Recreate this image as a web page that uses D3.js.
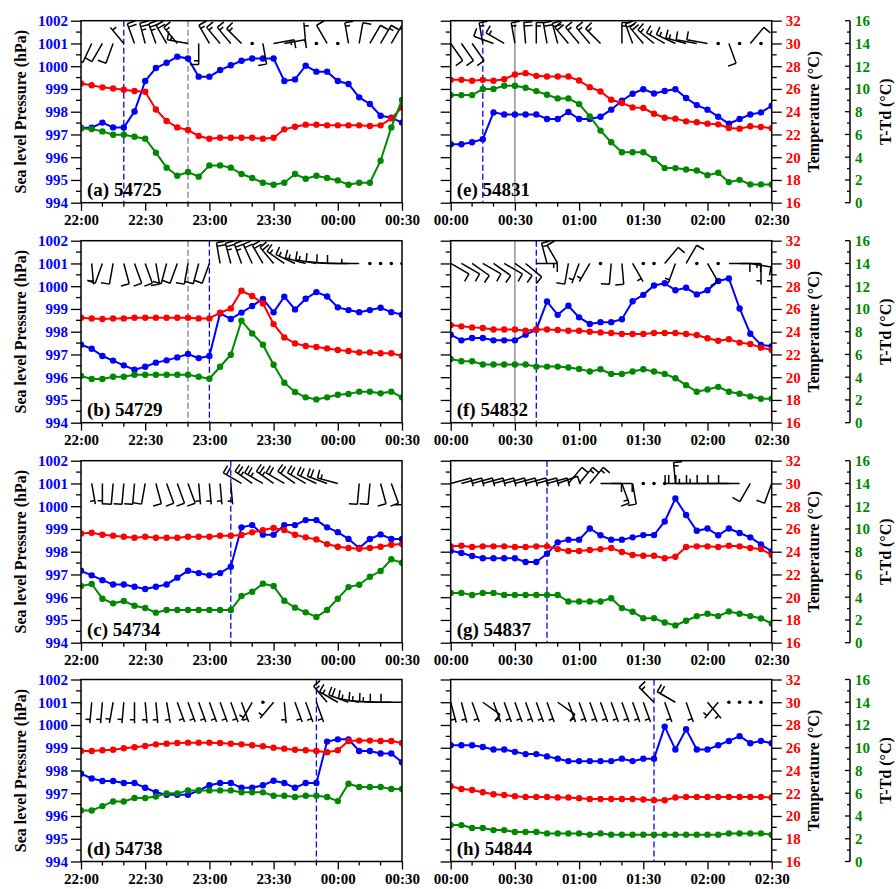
<!DOCTYPE html>
<html>
<head>
<meta charset="utf-8">
<script src="https://cdn.jsdelivr.net/npm/d3@7"></script>
<style>
  body { margin: 0; background: #fff; }
  svg { display: block; }
  text { font-family: "Liberation Serif", "Times New Roman", serif; font-weight: bold; }
</style>
</head>
<body>
<svg id="chart" width="896" height="889"></svg>
<script>
// ---- Station panels: (a)-(d) evening 22:00-00:30, (e)-(h) night 00:00-02:30, 5-min samples ----
const panelLetters = ["a", "b", "c", "d", "e", "f", "g", "h"];
const stations = ["54725", "54729", "54734", "54738", "54831", "54832", "54837", "54844"];
const timeTicksLeft = ["22:00", "22:30", "23:00", "23:30", "00:00", "00:30"];
const timeTicksRight = ["00:00", "00:30", "01:00", "01:30", "02:00", "02:30"];
const pressureTicks = [994, 995, 996, 997, 998, 999, 1000, 1001, 1002];
const tempTicks = [16, 18, 20, 22, 24, 26, 28, 30, 32];
const ttdTicks = [0, 2, 4, 6, 8, 10, 12, 14, 16];

// Sea level pressure (hPa)
const pressure = [
  [997.30,997.30,997.52,997.31,997.31,998.01,999.35,999.92,1000.15,1000.42,1000.34,999.54,999.54,999.83,1000.04,1000.24,1000.34,1000.34,1000.34,999.35,999.42,1000.02,999.76,999.76,999.35,999.22,998.63,998.34,997.82,997.74,997.52],
  [997.43,997.25,996.93,996.73,996.52,996.33,996.46,996.64,996.74,996.87,997.02,996.84,996.93,998.81,998.56,998.84,999.13,999.44,998.85,999.54,998.98,999.45,999.74,999.55,999.07,998.95,998.86,998.95,999.05,998.86,998.75],
  [997.16,996.96,996.75,996.56,996.56,996.46,996.36,996.46,996.56,996.86,997.16,997.06,996.96,997.06,997.34,999.07,999.17,998.75,998.75,999.17,999.17,999.39,999.39,999.07,998.86,998.56,998.16,998.56,998.76,998.56,998.56],
  [997.86,997.65,997.54,997.54,997.45,997.45,997.24,997.05,996.93,996.93,996.93,997.12,997.35,997.45,997.45,997.24,997.24,997.35,997.55,997.45,997.24,997.45,997.45,999.27,999.37,999.37,998.86,998.86,998.75,998.75,998.36],
  [996.57,996.57,996.66,996.79,997.97,997.88,997.88,997.88,997.88,997.68,997.68,997.99,997.68,997.68,997.78,998.09,998.48,998.79,998.99,998.80,998.91,998.99,998.60,998.29,998.09,997.78,997.47,997.68,997.88,997.97,998.26],
  [997.87,997.62,997.72,997.72,997.62,997.62,997.62,997.87,998.09,999.33,998.74,999.14,998.63,998.34,998.42,998.42,998.55,999.34,999.62,1000.03,1000.13,999.82,999.93,999.64,999.82,1000.23,1000.34,999.02,997.91,997.42,997.36],
  [998.04,997.94,997.81,997.71,997.71,997.71,997.71,997.55,997.55,997.91,998.41,998.53,998.53,999.02,998.72,998.53,998.53,998.63,998.73,998.73,999.33,1000.34,999.61,998.92,999.02,998.72,999.02,998.82,998.63,998.32,998.01],
  [999.11,999.11,999.11,999.03,998.92,998.92,998.82,998.72,998.72,998.62,998.52,998.41,998.41,998.41,998.41,998.41,998.52,998.41,998.52,998.52,999.93,998.92,999.81,998.92,998.92,999.11,999.30,999.51,999.20,999.30,999.20]
];

// Temperature (°C)
const temperature = [
  [26.49,26.32,26.14,26.05,25.93,25.82,25.76,24.20,23.18,22.62,22.39,21.86,21.63,21.71,21.71,21.71,21.71,21.63,21.71,22.45,22.68,22.86,22.86,22.80,22.80,22.80,22.80,22.74,22.80,23.41,24.38],
  [25.23,25.17,25.12,25.17,25.17,25.23,25.23,25.23,25.23,25.23,25.23,25.17,25.17,25.67,26.05,27.60,27.14,26.49,24.67,23.50,22.97,22.74,22.65,22.53,22.39,22.30,22.18,22.18,22.10,22.10,21.86],
  [25.61,25.67,25.49,25.41,25.32,25.23,25.32,25.23,25.23,25.23,25.32,25.32,25.32,25.41,25.41,25.47,25.70,25.90,26.08,25.90,25.49,25.26,25.08,24.67,24.44,24.32,24.26,24.32,24.44,24.61,24.67],
  [25.72,25.72,25.78,25.83,25.95,26.04,26.16,26.30,26.36,26.42,26.45,26.45,26.45,26.42,26.36,26.30,26.22,26.13,26.01,25.92,25.83,25.78,25.72,25.60,25.78,26.60,26.63,26.63,26.60,26.60,26.42],
  [26.80,26.80,26.72,26.80,26.72,26.86,27.27,27.39,27.15,27.09,27.09,27.09,26.74,26.16,25.78,25.05,24.76,24.38,24.32,23.82,23.47,23.39,23.15,23.07,22.95,22.89,22.57,22.51,22.72,22.66,22.54],
  [24.58,24.47,24.38,24.32,24.20,24.20,24.20,24.09,24.20,24.20,24.15,24.09,24.09,24.00,23.94,23.88,23.80,23.80,23.80,23.88,23.88,23.88,23.80,23.71,23.42,23.21,23.33,23.04,22.92,22.60,22.40],
  [24.47,24.53,24.41,24.47,24.47,24.47,24.41,24.41,24.47,24.47,24.23,24.06,24.06,24.15,24.23,24.32,23.97,23.71,23.65,23.65,23.42,23.56,24.41,24.47,24.47,24.41,24.53,24.47,24.32,24.23,23.71],
  [22.61,22.38,22.29,22.09,21.91,21.85,21.74,21.68,21.68,21.68,21.62,21.62,21.57,21.50,21.50,21.50,21.50,21.50,21.45,21.39,21.39,21.62,21.68,21.68,21.68,21.68,21.68,21.68,21.68,21.68,21.62]
];

// Dew-point depression T-Td (°C)
const depression = [
  [6.53,6.48,6.27,5.98,5.98,5.80,5.63,4.40,3.08,2.37,2.70,2.29,3.28,3.28,3.08,2.52,2.17,1.76,1.58,1.76,2.52,2.11,2.37,2.17,1.96,1.58,1.76,1.76,3.69,6.62,9.03],
  [4.10,3.84,3.84,4.04,4.04,4.22,4.22,4.22,4.22,4.22,4.22,4.04,3.87,4.92,5.98,8.97,7.85,6.86,5.10,3.52,2.70,2.23,2.05,2.23,2.46,2.52,2.73,2.73,2.58,2.73,2.23],
  [4.98,5.16,3.87,3.46,3.66,3.25,3.05,2.64,2.87,2.87,2.87,2.87,2.87,2.87,2.87,4.10,4.48,5.19,4.98,3.69,3.08,2.67,2.26,2.87,3.87,4.89,5.10,5.80,6.30,7.33,7.03],
  [4.49,4.49,4.87,5.28,5.28,5.58,5.58,5.72,5.99,5.99,6.25,6.25,6.25,6.25,6.25,6.08,6.08,6.08,5.78,5.78,5.67,5.78,5.78,5.67,5.31,6.84,6.55,6.55,6.55,6.37,6.37],
  [9.46,9.46,9.46,9.99,9.99,10.28,10.28,10.10,9.81,9.49,9.17,9.17,8.67,7.59,6.34,5.31,4.44,4.44,4.44,3.85,3.04,3.04,2.92,2.83,2.42,2.63,1.81,2.01,1.61,1.61,1.61],
  [5.61,5.40,5.40,5.11,5.11,5.11,5.11,5.11,4.93,4.93,4.93,4.85,4.73,4.50,4.70,4.29,4.29,4.50,4.70,4.50,4.29,3.91,3.30,2.72,2.92,3.15,2.72,2.54,2.31,2.10,2.10],
  [4.38,4.38,4.20,4.38,4.38,4.20,4.20,4.20,4.20,4.20,4.20,3.62,3.62,3.62,3.62,3.91,3.04,2.72,2.16,2.16,1.78,1.52,1.93,2.34,2.54,2.34,2.74,2.54,2.34,2.13,1.69],
  [3.20,3.20,2.94,2.94,2.76,2.76,2.59,2.59,2.59,2.47,2.47,2.47,2.47,2.36,2.47,2.36,2.36,2.36,2.36,2.36,2.36,2.36,2.36,2.36,2.36,2.36,2.47,2.47,2.47,2.47,2.36]
];

// Wind direction (deg, blowing from) and speed (m/s); speed 0 = calm, null = missing
const windDir = [
  [200,205,210,200,320,340,345,340,330,320,280,180,330,320,320,315,0,170,80,80,null,355,0,330,0,350,10,30,30,30,20],
  [195,175,200,190,165,160,160,170,195,200,190,195,200,350,345,340,335,330,320,305,295,285,280,275,272,270,270,0,0,0,0],
  [200,170,180,185,185,185,190,165,160,160,160,175,175,175,175,300,305,300,305,300,305,300,295,290,285,null,185,185,165,160,175],
  [185,185,185,190,185,180,175,175,170,160,160,160,160,160,160,160,210,0,220,175,160,160,160,320,300,290,280,275,272,270,270],
  [145,145,145,350,290,300,350,355,0,350,345,320,320,320,315,null,0,340,320,310,300,295,285,280,280,0,160,0,40,0,10],
  [120,120,125,120,125,120,125,130,90,345,330,190,200,210,0,185,175,150,0,0,40,200,30,0,150,0,90,90,100,180,180],
  [75,75,75,75,75,75,75,75,75,75,70,40,40,40,90,90,160,170,0,0,0,355,270,270,270,270,270,270,210,null,200],
  [165,165,160,125,160,160,160,160,160,160,125,160,160,160,160,160,160,160,160,315,160,300,160,null,140,220,0,0,0,0,null]
];
const windSpd = [
  [3,3,3,4,2,8,10,10,8,6,6,6,6,6,6,6,0,4,6,4,null,2,0,4,0,6,4,4,6,6,4],
  [3,2,3,3,4,4,4,3,3,3,3,3,3,8,10,10,8,8,8,6,6,6,6,4,4,4,2,0,0,0,0],
  [3,2,2,3,3,3,3,3,3,3,3,2,2,2,2,8,10,10,10,8,8,8,8,8,6,null,4,3,3,4,4],
  [2,2,2,2,2,2,2,2,2,2,2,2,2,2,2,2,2,0,2,2,2,2,2,6,6,8,6,6,6,4,4],
  [4,4,4,6,4,6,6,8,6,8,8,8,6,6,6,null,6,8,8,6,6,6,6,4,4,0,4,0,4,0,4],
  [4,4,4,4,4,4,4,4,6,6,4,4,2,2,0,4,4,2,0,0,4,2,4,0,4,0,4,6,4,2,2],
  [4,4,4,4,4,4,4,4,4,4,4,4,6,6,4,4,6,4,0,0,0,6,8,6,6,4,4,4,4,null,4],
  [2,2,2,4,2,2,2,2,2,2,4,2,2,2,2,2,2,2,2,6,2,8,2,null,2,2,0,0,0,0,null]
];

// Reference times (minutes from panel start): outflow-boundary passage and earlier marker
const gustTime = [20, 60, 70, 110, 15, 40, 45, 95];
const refTime = [50, 50, null, null, 30, 30, null, null];
const refDashed = [true, true, false, false, false, false, false, false];

// ---- layout ----
const W = 321, H = 182;
const colX = [81, 450.7];
const rowY = [20.7, 240.7, 460.7, 679.5];
const blue = "#0000ff", red = "#ff0000", green = "#008800";

const svg = d3.select("#chart");
const defs = svg.append("defs");

const x = d3.scaleLinear().domain([0, 150]).range([0, W]);
const yP = d3.scaleLinear().domain([994, 1002]).range([H, 0]);
const yT = d3.scaleLinear().domain([16, 32]).range([H, 0]);
const yD = d3.scaleLinear().domain([0, 16]).range([H, 0]);

function addMinorTicks(g, scale, values, side, len) {
  const sel = g.selectAll(null).data(values).enter().append("line")
    .attr("stroke", "#000").attr("stroke-width", 1.3);
  if (side === "left") sel.attr("x1", 0).attr("x2", -len).attr("y1", d => scale(d)).attr("y2", d => scale(d));
  if (side === "right") sel.attr("x1", 0).attr("x2", len).attr("y1", d => scale(d)).attr("y2", d => scale(d));
  if (side === "bottom") sel.attr("y1", 0).attr("y2", len).attr("x1", d => scale(d)).attr("x2", d => scale(d));
}

function styleAxis(g, color) {
  g.select(".domain").remove();
  g.selectAll(".tick line").attr("stroke", "#000").attr("stroke-width", 1.3);
  g.selectAll(".tick text").attr("fill", color).style("font-size", "15px");
}

// wind barb: staff toward the direction the wind blows from, feathers perpendicular at the far end
function drawBarb(g, x0, y0, dir, spd) {
  if (spd == null || dir == null) return;
  if (spd < 1) {
    g.append("circle").attr("cx", x0).attr("cy", y0).attr("r", 1.8).attr("fill", "#000");
    return;
  }
  const r = dir * Math.PI / 180;
  const ux = Math.sin(r), uy = -Math.cos(r);
  const fx = -uy, fy = ux;
  const L = 21, B = 8.5, gap = 3.6;
  const tx = x0 + ux * L, ty = y0 + uy * L;
  let p = `M${x0},${y0}L${tx},${ty}`;
  const units = Math.round(spd / 2);
  const full = Math.floor(units / 2), half = units % 2;
  let pos = 0;
  for (let k = 0; k < full; k++) {
    const px = tx - ux * pos, py = ty - uy * pos;
    p += `M${px},${py}l${fx * B},${fy * B}`;
    pos += gap;
  }
  if (half) {
    if (full === 0) pos = gap;
    const px = tx - ux * pos, py = ty - uy * pos;
    p += `M${px},${py}l${fx * B * 0.55},${fy * B * 0.55}`;
  }
  g.append("path").attr("d", p).attr("fill", "none").attr("stroke", "#000").attr("stroke-width", 1.5);
}

panelLetters.forEach((letter, k) => {
  const col = k < 4 ? 0 : 1, row = k % 4;
  const g = svg.append("g").attr("transform", `translate(${colX[col]},${rowY[row]})`);
  const tickLabels = col === 0 ? timeTicksLeft : timeTicksRight;

  defs.append("clipPath").attr("id", "clip" + k)
    .append("rect").attr("x", 0).attr("y", 0).attr("width", W).attr("height", H);

  // pressure axis (labels only on the left column)
  const axP = g.append("g").call(d3.axisLeft(yP).tickValues(pressureTicks).tickSize(10).tickPadding(3)
    .tickFormat(col === 0 ? d3.format("d") : () => ""));
  styleAxis(axP, blue);
  addMinorTicks(axP, yP, d3.range(994.5, 1002, 1), "left", 5);

  // time axis
  const axX = g.append("g").attr("transform", `translate(0,${H})`)
    .call(d3.axisBottom(x).tickValues([0, 30, 60, 90, 120, 150]).tickSize(8).tickPadding(4)
      .tickFormat((d, i) => tickLabels[i]));
  styleAxis(axX, "#000");
  addMinorTicks(axX, x, d3.range(10, 150, 10).filter(d => d % 30 !== 0), "bottom", 4);

  if (col === 1) {
    // temperature axis on the plot's right edge
    const axT = g.append("g").attr("transform", `translate(${W},0)`)
      .call(d3.axisRight(yT).tickValues(tempTicks).tickSize(10).tickPadding(4));
    styleAxis(axT, red);
    addMinorTicks(axT, yT, d3.range(17, 32, 2), "right", 5);
    g.append("text").attr("transform", `translate(${W + 42},${H / 2}) rotate(-90)`)
      .attr("text-anchor", "middle").attr("dy", "0.35em").style("font-size", "16px").text("Temperature (°C)");

    // offset T-Td axis
    const off = 399.3;
    const axD = g.append("g").attr("transform", `translate(${off},0)`)
      .call(d3.axisRight(yD).tickValues(ttdTicks).tickSize(0).tickPadding(5));
    styleAxis(axD, green);
    axD.append("line").attr("x1", 0).attr("x2", 0).attr("y1", 0).attr("y2", H)
      .attr("stroke", "#000").attr("stroke-width", 1.5);
    addMinorTicks(axD, yD, ttdTicks, "left", 5);
    addMinorTicks(axD, yD, d3.range(1, 16, 2), "left", 3);
    g.append("text").attr("transform", `translate(${off + 35},${H / 2}) rotate(-90)`)
      .attr("text-anchor", "middle").attr("dy", "0.35em").style("font-size", "16px").text("T-Td (°C)");
  } else {
    g.append("text").attr("transform", `translate(${-61},${H / 2}) rotate(-90)`)
      .attr("text-anchor", "middle").attr("dy", "0.35em").style("font-size", "16px").text("Sea level Pressure (hPa)");
  }

  const plot = g.append("g").attr("clip-path", `url(#clip${k})`);

  // event markers
  if (refTime[k] != null) {
    plot.append("line").attr("x1", x(refTime[k])).attr("x2", x(refTime[k])).attr("y1", 0).attr("y2", H)
      .attr("stroke", "#808080").attr("stroke-width", 1.3)
      .attr("stroke-dasharray", refDashed[k] ? "6,3" : null);
  }
  plot.append("line").attr("x1", x(gustTime[k])).attr("x2", x(gustTime[k])).attr("y1", 0).attr("y2", H)
    .attr("stroke", blue).attr("stroke-width", 1.3).attr("stroke-dasharray", "6,3");

  // series
  const series = [
    { vals: pressure[k], y: yP, c: blue },
    { vals: temperature[k], y: yT, c: red },
    { vals: depression[k], y: yD, c: green }
  ];
  series.forEach(s => {
    const pts = s.vals.map((v, i) => [i * 5, v]);
    plot.append("path").datum(pts)
      .attr("d", d3.line().x(d => x(d[0])).y(d => s.y(d[1])))
      .attr("fill", "none").attr("stroke", s.c).attr("stroke-width", 2);
    plot.selectAll(null).data(pts).enter().append("circle")
      .attr("cx", d => x(d[0])).attr("cy", d => s.y(d[1])).attr("r", 3.2).attr("fill", s.c);
  });

  // wind barbs anchored on the 1001 hPa level
  const barbs = plot.append("g");
  windDir[k].forEach((d, i) => drawBarb(barbs, x(i * 5), yP(1001), d, windSpd[k][i]));

  // frame
  g.append("rect").attr("width", W).attr("height", H).attr("fill", "none")
    .attr("stroke", "#000").attr("stroke-width", 1.5);

  g.append("text").attr("x", 6).attr("y", H - 7).style("font-size", "19px")
    .text(`(${letter}) ${stations[k]}`);
});
</script>
</body>
</html>
